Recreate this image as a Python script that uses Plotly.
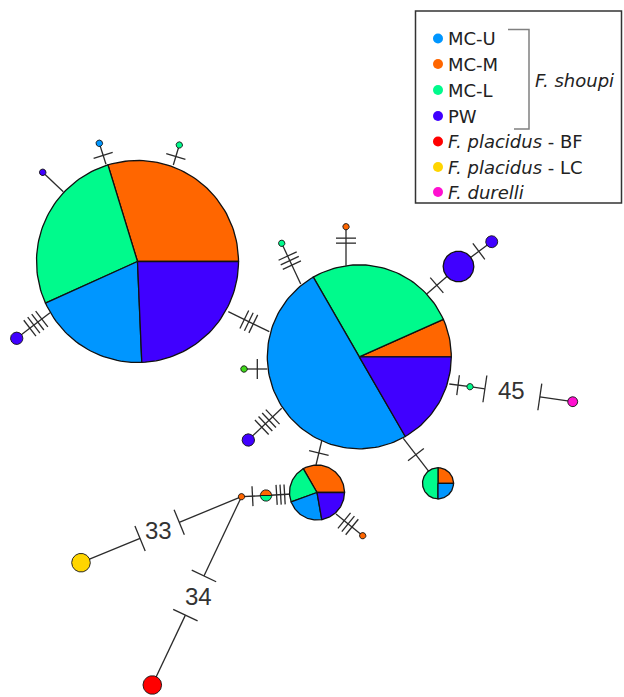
import math
import plotly.graph_objects as go

# ---------------- DATA ----------------
populations = ["MC-U", "MC-M", "MC-L", "PW", "F. placidus - BF", "F. placidus - LC", "F. durelli"]
haplotypes = ["H1", "H2", "H3", "H4", "H5", "H6", "H7", "H8", "H9", "H10", "H11",
              "H12", "H13", "H14", "H15", "H16", "H17", "H18", "H19", "H20", "H21"]
count_mc_u = [7, 15, 2, 1, 0, 1, 0, 0, 0, 0, 0, 0, 0, 0, 0, 0, 0, 0, 0, 0, 0]
count_mc_m = [11, 2, 3, 1, 1, 0, 0, 0, 0, 0, 1, 0, 0, 0, 0, 0, 1, 1, 0, 0, 0]
count_mc_l = [10, 8, 2, 2, 1, 0, 1, 0, 0, 1, 0, 0, 0, 1, 1, 0, 0, 0, 0, 0, 0]
count_pw = [9, 5, 2, 0, 0, 0, 0, 1, 2, 0, 0, 5, 2, 0, 0, 2, 0, 0, 0, 0, 0]
count_bf = [0, 0, 0, 0, 0, 0, 0, 0, 0, 0, 0, 0, 0, 0, 0, 0, 0, 0, 0, 3, 0]
count_lc = [0, 0, 0, 0, 0, 0, 0, 0, 0, 0, 0, 0, 0, 0, 0, 0, 0, 0, 3, 0, 0]
count_durelli = [0, 0, 0, 0, 0, 0, 0, 0, 0, 0, 0, 0, 0, 0, 0, 0, 0, 0, 0, 0, 2]

edge_from = ["H1", "H1", "H1", "H1", "H1", "H2", "H2", "H2", "H12", "H2", "H14",
             "H2", "H2", "H2", "H2", "H3", "H5", "H3", "H17", "H17"]
edge_to = ["H6", "H7", "H8", "H9", "H2", "H10", "H11", "H12", "H13", "H14", "H21",
           "H15", "H16", "H4", "H3", "H5", "H17", "H18", "H19", "H20"]
edge_mutations = [1, 1, 0, 4, 3, 3, 2, 1, 1, 1, 45, 1, 4, 1, 1, 3, 1, 3, 33, 34]

group_label = "F. shoupi"

# ---------------- LAYOUT / STYLE ----------------
W, H = 624, 697
colors = {"MC-U": "#0096FF", "MC-M": "#FF6600", "MC-L": "#00FA8C", "PW": "#4000FF",
          "F. placidus - BF": "#FF0000", "F. placidus - LC": "#FFD500", "F. durelli": "#FF10D0"}
wedge_order = ["MC-M", "MC-L", "MC-U", "PW", "F. placidus - BF", "F. placidus - LC", "F. durelli"]
color_override = {"H15": "#3FD81A"}

node_pos = {
    "H1": (137.5, 261.5, 101), "H2": (359.3, 356.8, 92), "H3": (317.0, 492.5, 27.5),
    "H4": (438.0, 483.3, 15.5), "H5": (266.0, 495.5, 5.7), "H6": (99.3, 143.3, 3.3),
    "H7": (179.3, 145.0, 3.2), "H8": (42.7, 172.3, 3.3), "H9": (16.7, 338.3, 6.2),
    "H10": (281.7, 243.3, 3.2), "H11": (346.0, 226.7, 3.2), "H12": (458.5, 266.5, 15.3),
    "H13": (491.7, 241.7, 6.0), "H14": (470.0, 386.7, 3.2), "H15": (244.0, 369.0, 3.3),
    "H16": (248.3, 440.0, 6.2), "H17": (241.5, 496.7, 3.2), "H18": (362.7, 535.7, 3.2),
    "H19": (81.0, 562.7, 9.3), "H20": (152.3, 685.0, 9.3), "H21": (572.7, 401.7, 5.0),
}
# optional rim anchors (start, end) and tick centre fraction for edges
edge_anchor = {
    0: ((106.0, 164.3), None), 1: ((173.3, 165.0), None), 2: ((63.3, 191.7), None),
    3: ((50.0, 312.7), None), 4: ((228.3, 311.7), (269.3, 331.7)),
    5: ((300.7, 284.0), None), 6: ((346.0, 265.7), None), 7: ((426.7, 294.0), None),
    9: ((449.3, 384.0), None), 11: ((267.3, 369.0), None), 12: ((281.7, 408.3), None),
    13: ((403.3, 438.3), None), 14: ((321.7, 441.0), (316.0, 465.0)),
    17: ((336.0, 514.0), None),
}
edge_tick_frac = {5: 0.62, 6: 0.7}
edge_tick_gap = {15: 4.0}
label_edges = {10: (0.145, 0.68, (511, 390.5)), 18: (0.388, 0.632, (158.5, 530.5)),
               19: (0.421, 0.629, (198.5, 596.5))}
legend_y = [38.5, 64, 90, 116, 141.5, 167, 192]

LINE = "#2b2b2b"
fig = go.Figure()


def seg(x0, y0, x1, y1, width=1.3):
    fig.add_trace(go.Scatter(x=[x0, x1], y=[y0, y1], mode="lines",
                             line=dict(color=LINE, width=width), hoverinfo="skip", showlegend=False))


def tick(px, py, ux, uy, L):
    nx, ny = -uy, ux
    seg(px - nx * L / 2, py - ny * L / 2, px + nx * L / 2, py + ny * L / 2)


# edges
for i, (a, b, m) in enumerate(zip(edge_from, edge_to, edge_mutations)):
    ax, ay, ar = node_pos[a]
    bx, by, br = node_pos[b]
    sa, sb = edge_anchor.get(i, (None, None))
    p0 = sa if sa else (ax, ay)
    p1 = sb if sb else (bx, by)
    dx, dy = p1[0] - p0[0], p1[1] - p0[1]
    L = math.hypot(dx, dy)
    ux, uy = dx / L, dy / L
    if i in label_edges:
        f1, f2, (lx, ly) = label_edges[i]
        q1 = (p0[0] + dx * f1, p0[1] + dy * f1)
        q2 = (p0[0] + dx * f2, p0[1] + dy * f2)
        seg(p0[0], p0[1], q1[0], q1[1])
        seg(q2[0], q2[1], p1[0], p1[1])
        tick(q1[0], q1[1], ux, uy, 27)
        tick(q2[0], q2[1], ux, uy, 27)
        fig.add_annotation(x=lx, y=ly, text=str(m), showarrow=False,
                           font=dict(family="Liberation Sans", size=24, color="#333333"),
                           xanchor="center", yanchor="middle")
        continue
    seg(p0[0], p0[1], p1[0], p1[1])
    if m == 0:
        continue
    s0 = 0 if sa else ar
    s1 = L - (0 if sb else br)
    frac = edge_tick_frac.get(i, 0.5)
    c = s0 + (s1 - s0) * frac
    gap = edge_tick_gap.get(i, 5.0)
    for k in range(m):
        d = c + (k - (m - 1) / 2) * gap
        tick(p0[0] + ux * d, p0[1] + uy * d, ux, uy, 20)

# nodes (pies)
counts = {"MC-U": count_mc_u, "MC-M": count_mc_m, "MC-L": count_mc_l, "PW": count_pw,
          "F. placidus - BF": count_bf, "F. placidus - LC": count_lc, "F. durelli": count_durelli}
for j, h in enumerate(haplotypes):
    cx, cy, r = node_pos[h]
    vals = [(p, counts[p][j]) for p in wedge_order if counts[p][j] > 0]
    total = sum(v for _, v in vals)
    ang = 0.0
    for p, v in vals:
        span = 360.0 * v / total
        col = color_override.get(h, colors[p])
        n = max(8, int(span / 2))
        pts = [ang + span * t / n for t in range(n + 1)]
        if len(vals) == 1:
            xs = [cx + r * math.cos(math.radians(t)) for t in pts]
            ys = [cy - r * math.sin(math.radians(t)) for t in pts]
        else:
            xs = [cx] + [cx + r * math.cos(math.radians(t)) for t in pts] + [cx]
            ys = [cy] + [cy - r * math.sin(math.radians(t)) for t in pts] + [cy]
        lw = 1.3 if r > 12 else 0.9
        fig.add_trace(go.Scatter(x=xs, y=ys, mode="lines", fill="toself", fillcolor=col,
                                 line=dict(color="#111111", width=lw), hoverinfo="skip",
                                 showlegend=False))
        ang += span

# legend box
fig.add_shape(type="rect", x0=415.5, y0=11, x1=621.5, y1=203,
              line=dict(color="#333333", width=1.5), fillcolor="white", layer="below")
fig.add_shape(type="path", path="M 508 29.5 L 529 29.5 L 529 129 L 514 129",
              line=dict(color="#808080", width=1.5))
for p, ly in zip(populations, legend_y):
    fig.add_trace(go.Scatter(x=[438], y=[ly], mode="markers",
                             marker=dict(size=10, color=colors[p], line=dict(width=0)),
                             hoverinfo="skip", showlegend=False))
    if p.startswith("F. "):
        parts = p.split(" - ")
        txt = "<i>" + parts[0] + "</i>" + (" - " + parts[1] if len(parts) > 1 else "")
    else:
        txt = p
    fig.add_annotation(x=446, y=ly, text=txt, showarrow=False, xanchor="left", yanchor="middle",
                       font=dict(family="DejaVu Sans", size=18, color="#222222"))
fig.add_annotation(x=533, y=80, text="<i>" + group_label + "</i>", showarrow=False,
                   xanchor="left", yanchor="middle",
                   font=dict(family="DejaVu Sans", size=18, color="#222222"))

fig.update_layout(width=W, height=H, margin=dict(l=0, r=0, t=0, b=0),
                  paper_bgcolor="white", plot_bgcolor="white", hovermode=False,
                  xaxis=dict(range=[0, W], visible=False, fixedrange=True),
                  yaxis=dict(range=[H, 0], visible=False, fixedrange=True))
fig.write_html("out.html", config={"displayModeBar": False, "staticPlot": True},
               post_script="document.body.style.margin='0';document.body.style.overflow='hidden';")
